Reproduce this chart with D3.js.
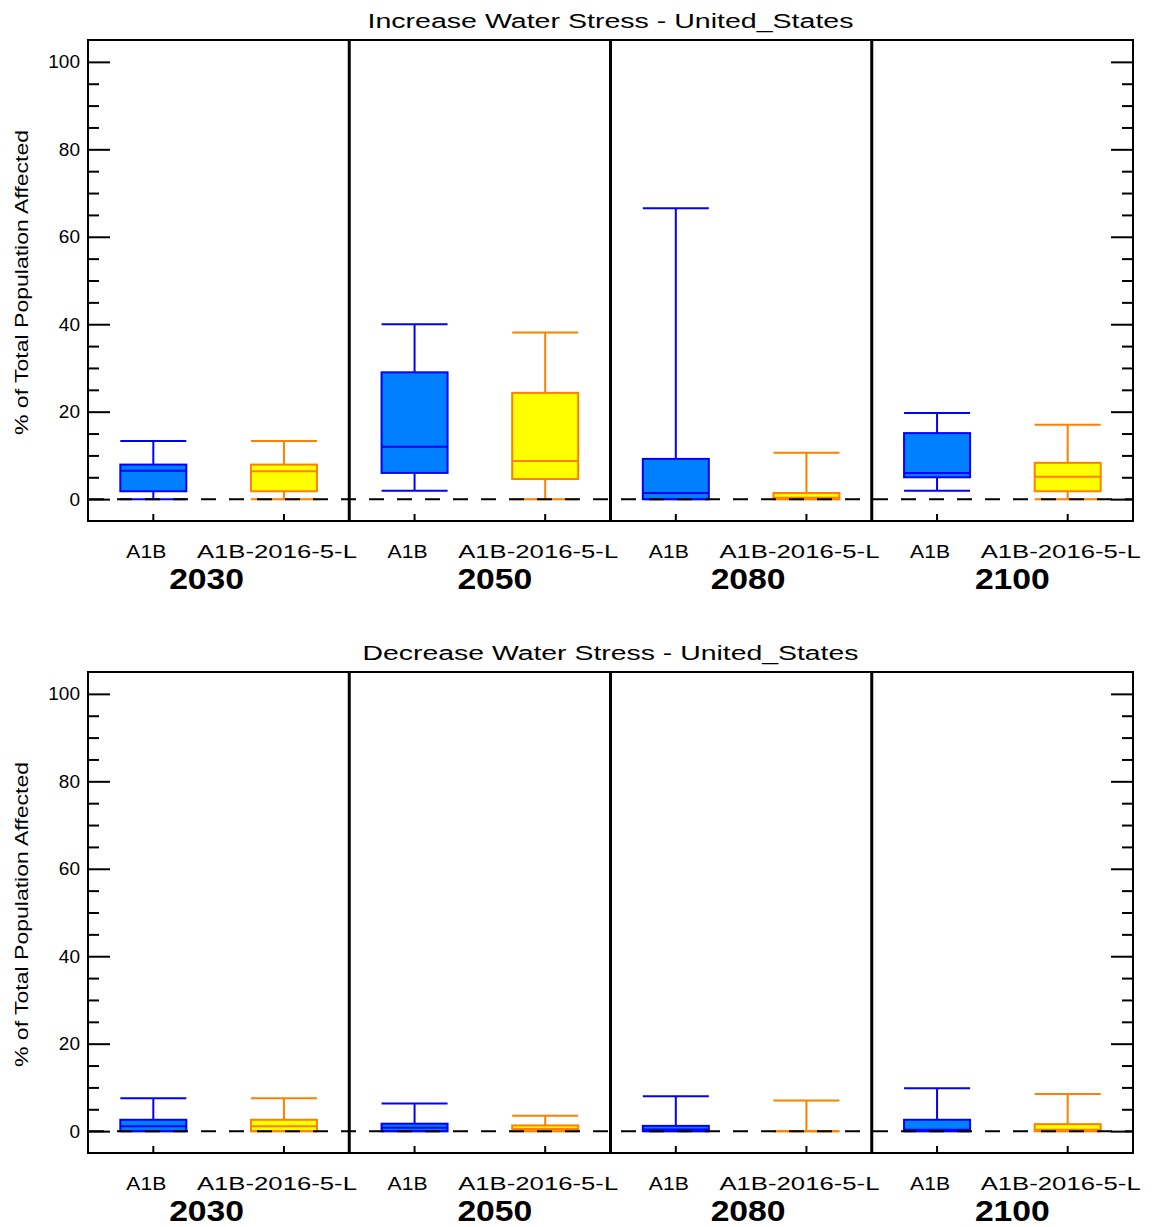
<!DOCTYPE html>
<html>
<head>
<meta charset="utf-8">
<script src="https://cdn.jsdelivr.net/npm/d3@7"></script>
<style>
  body { margin: 0; background: #fff; }
  svg { display: block; }
  text { font-family: "Liberation Sans", "DejaVu Sans", sans-serif; fill: #000; }
</style>
</head>
<body>
<svg id="chart" width="1152" height="1227"></svg>
<script>
// values: [min, q1, median, q3, max] for each year
const years = ["2030", "2050", "2080", "2100"];
const scenarios = ["A1B", "A1B-2016-5-L"];
const yTicks = [0, 20, 40, 60, 80, 100];

const incA1B  = [[0, 1.8, 6.5, 7.9, 13.3], [1.9, 6.0, 12.0, 29.0, 40.0], [0, 0, 1.4, 9.2, 66.5], [1.9, 5.0, 6.0, 15.1, 19.7]];
const incA1BL = [[0, 1.8, 6.4, 7.9, 13.3], [0, 4.6, 8.7, 24.3, 38.1], [0, 0, 0.3, 1.4, 10.6], [0, 1.8, 5.1, 8.3, 17.0]];
const decA1B  = [[0, 0, 1.1, 2.6, 7.5], [0, 0, 0.8, 1.7, 6.3], [0, 0, 0.4, 1.2, 8.0], [0, 0, 0.3, 2.6, 9.8]];
const decA1BL = [[0, 0, 1.1, 2.6, 7.5], [0, 0, 0.5, 1.3, 3.5], [0, 0, 0, 0, 7.0], [0, 0, 0.3, 1.6, 8.5]];

const colors = {
  "A1B": { fill: "#0080ff", stroke: "#0000ff" },
  "A1B-2016-5-L": { fill: "#ffff00", stroke: "#ff8000" }
};

// year labels are not centred exactly under their groups in the original
const yearNudge = [-12, 15, 7, 10];

const svg = d3.select("#chart");
const left = 88, right = 1133;

const slots = [];
years.forEach(yr => scenarios.forEach(s => slots.push(yr + "|" + s)));

const x = d3.scaleBand().domain(slots).range([left, right]).padding(0);
const boxW = 66;

function panel(title, top, seriesA, seriesB) {
  const bottom = top + 481;
  const y = d3.scaleLinear().domain([-5, 105]).range([bottom, top]);
  const g = svg.append("g");

  // title
  g.append("text")
    .attr("x", (left + right) / 2).attr("y", top - 12)
    .attr("text-anchor", "middle")
    .attr("font-size", 20)
    .attr("textLength", title.startsWith("Inc") ? 486 : 496)
    .attr("lengthAdjust", "spacingAndGlyphs")
    .text(title);

  // y axis title
  g.append("text")
    .attr("transform", `translate(28,${(top + bottom) / 2 + 2}) rotate(-90)`)
    .attr("text-anchor", "middle")
    .attr("font-size", 19)
    .attr("textLength", 305)
    .attr("lengthAdjust", "spacingAndGlyphs")
    .text("% of Total Population Affected");

  // boxes
  const data = [];
  years.forEach((yr, i) => {
    data.push({ key: yr + "|A1B", s: "A1B", v: seriesA[i] });
    data.push({ key: yr + "|A1B-2016-5-L", s: "A1B-2016-5-L", v: seriesB[i] });
  });

  const box = g.selectAll("g.box").data(data).join("g").attr("class", "box");
  box.each(function (d) {
    const b = d3.select(this);
    const cx = x(d.key) + x.bandwidth() / 2;
    const c = colors[d.s];
    const [mn, q1, md, q3, mx] = d.v;
    // whiskers
    b.append("line").attr("x1", cx).attr("x2", cx).attr("y1", y(q3)).attr("y2", y(mx))
      .attr("stroke", c.stroke).attr("stroke-width", 2);
    b.append("line").attr("x1", cx).attr("x2", cx).attr("y1", y(q1)).attr("y2", y(mn))
      .attr("stroke", c.stroke).attr("stroke-width", 2);
    b.append("line").attr("x1", cx - boxW / 2).attr("x2", cx + boxW / 2).attr("y1", y(mx)).attr("y2", y(mx))
      .attr("stroke", c.stroke).attr("stroke-width", 2);
    b.append("line").attr("x1", cx - boxW / 2).attr("x2", cx + boxW / 2).attr("y1", y(mn)).attr("y2", y(mn))
      .attr("stroke", c.stroke).attr("stroke-width", 2);
    // box
    if (q3 > q1) {
      b.append("rect").attr("x", cx - boxW / 2).attr("width", boxW)
        .attr("y", y(q3)).attr("height", y(q1) - y(q3))
        .attr("fill", c.fill).attr("stroke", c.stroke).attr("stroke-width", 2);
    }
    b.append("line").attr("x1", cx - boxW / 2).attr("x2", cx + boxW / 2).attr("y1", y(md)).attr("y2", y(md))
      .attr("stroke", c.stroke).attr("stroke-width", 2);
  });

  // zero line
  g.append("line")
    .attr("x1", left).attr("x2", right).attr("y1", y(0)).attr("y2", y(0))
    .attr("stroke", "#000").attr("stroke-width", 2).attr("stroke-dasharray", "15,13")
    .attr("stroke-dashoffset", -1);

  // dividers between years
  for (let i = 1; i < years.length; i++) {
    const xd = x(slots[i * 2]);
    g.append("line").attr("x1", xd).attr("x2", xd).attr("y1", top).attr("y2", bottom)
      .attr("stroke", "#000").attr("stroke-width", 3);
  }

  // axes
  const minor = d3.range(0, 105, 5).filter(v => v % 20 !== 0);
  const styleAxis = a => {
    a.select(".domain").remove();
    a.selectAll("line").attr("stroke", "#000").attr("stroke-width", 2);
  };
  g.append("g").attr("transform", `translate(${left},0)`)
    .call(d3.axisLeft(y).tickValues(yTicks).tickSize(-22).tickPadding(8))
    .call(styleAxis)
    .call(a => a.selectAll("text").attr("font-size", 19).attr("font-family", "Liberation Sans"));
  g.append("g").attr("transform", `translate(${left},0)`)
    .call(d3.axisLeft(y).tickValues(minor).tickSize(-11).tickFormat(""))
    .call(styleAxis);
  g.append("g").attr("transform", `translate(${right},0)`)
    .call(d3.axisRight(y).tickValues(yTicks).tickSize(-22).tickFormat(""))
    .call(styleAxis);
  g.append("g").attr("transform", `translate(${right},0)`)
    .call(d3.axisRight(y).tickValues(minor).tickSize(-11).tickFormat(""))
    .call(styleAxis);
  g.append("g").attr("transform", `translate(0,${bottom})`)
    .call(d3.axisBottom(x).tickSize(-7).tickFormat(d => d.split("|")[1]).tickPadding(24))
    .call(styleAxis)
    .call(a => a.selectAll("text")
      .attr("font-size", 19).attr("font-family", "Liberation Sans")
      .attr("dx", -7)
      .attr("textLength", d => d.endsWith("L") ? 160 : 40)
      .attr("lengthAdjust", "spacingAndGlyphs"));

  // year labels
  g.selectAll("text.year").data(years).join("text").attr("class", "year")
    .attr("x", (d, i) => x(slots[i * 2]) + x.bandwidth() + yearNudge[i])
    .attr("y", bottom + 68)
    .attr("text-anchor", "middle")
    .attr("font-size", 29).attr("font-weight", "bold")
    .attr("textLength", 75).attr("lengthAdjust", "spacingAndGlyphs")
    .text(d => d);

  // frame
  g.append("rect").attr("x", left).attr("y", top).attr("width", right - left).attr("height", bottom - top)
    .attr("fill", "none").attr("stroke", "#000").attr("stroke-width", 2);
}

panel("Increase Water Stress - United_States", 40, incA1B, incA1BL);
panel("Decrease Water Stress - United_States", 672, decA1B, decA1BL);
</script>
</body>
</html>
